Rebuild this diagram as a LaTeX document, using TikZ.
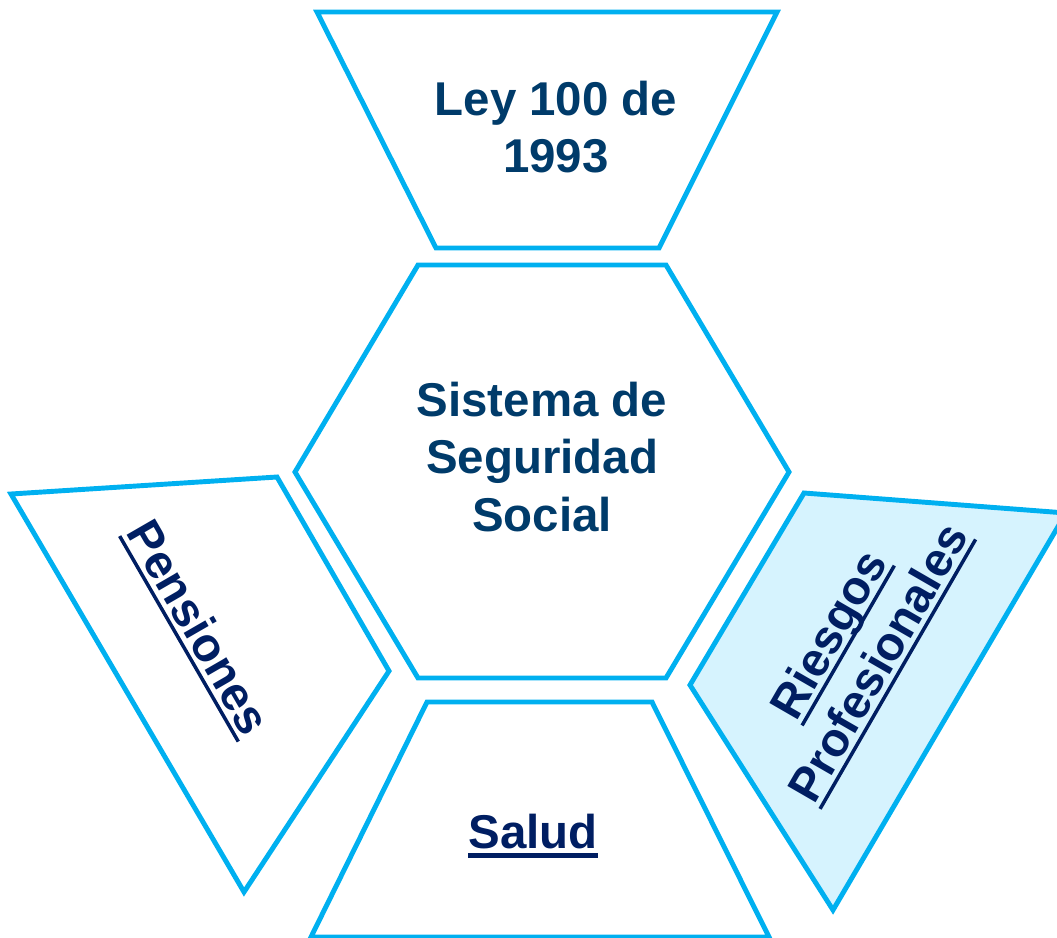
\documentclass[tikz,border=0pt]{standalone}
\usepackage{fontspec}
\setmainfont{Liberation Sans}
\definecolor{borde}{RGB}{0,176,240}
\definecolor{textoazul}{RGB}{0,59,106}
\definecolor{azulosc}{RGB}{0,30,98}
\definecolor{celeste}{RGB}{214,243,254}
\newcommand{\subr}[2][5.6pt]{\setbox0\hbox{#2}\rlap{\vrule width\wd0 height-2.8pt depth#1}\box0}
\tikzset{
  pieza/.style= {draw=borde, line width=2.8pt, line join=miter},
  titulo/.style= {text=textoazul, align=center, font=\fontsize{27}{32.6}\selectfont\bfseries},
  rama/.style= {text=azulosc, align=center, font=\fontsize{27}{32.6}\selectfont\bfseries},
}

\begin{document}
\begin{tikzpicture}[x=0.02cm, y=-0.02cm]
  \useasboundingbox (0,0) rectangle (1057,937);
  \clip (0,0) rectangle (1057,937);

  \draw [pieza] (317,12) -- (777,12) -- (659,248) -- (436,248) -- cycle;
  \draw [pieza] (418,265) -- (666,265) -- (789,472) -- (666,678) -- (418,678) -- (295,472) -- cycle;
  \draw [pieza] (11,494) -- (277,477) -- (389,671) -- (244,892) -- cycle;
  \draw [pieza, fill=celeste] (804,493) -- (1066,513) -- (833,910) -- (690,685) -- cycle;
  \draw [pieza] (427,702) -- (652,702) -- (769,937) -- (311,937) -- cycle;

  \node [titulo] (ley) at (556,127) {Ley 100 de\\1993} ;
  \node [titulo] (sistema) at (542,457) {Sistema de\\Seguridad\\Social} ;
  \node [rama, anchor=base] (salud) at (533,848) {\subr{Salud}} ;
  \node [rama, rotate=-60] (pensiones) at (196,629) {\subr[4.8pt]{Pensiones}} ;
  \node [rama, rotate=60] (riesgos) at (856,650) {\subr[4.8pt]{Riesgos}\\\subr[4.8pt]{Profesionales}} ;
\end{tikzpicture}
\end{document}
